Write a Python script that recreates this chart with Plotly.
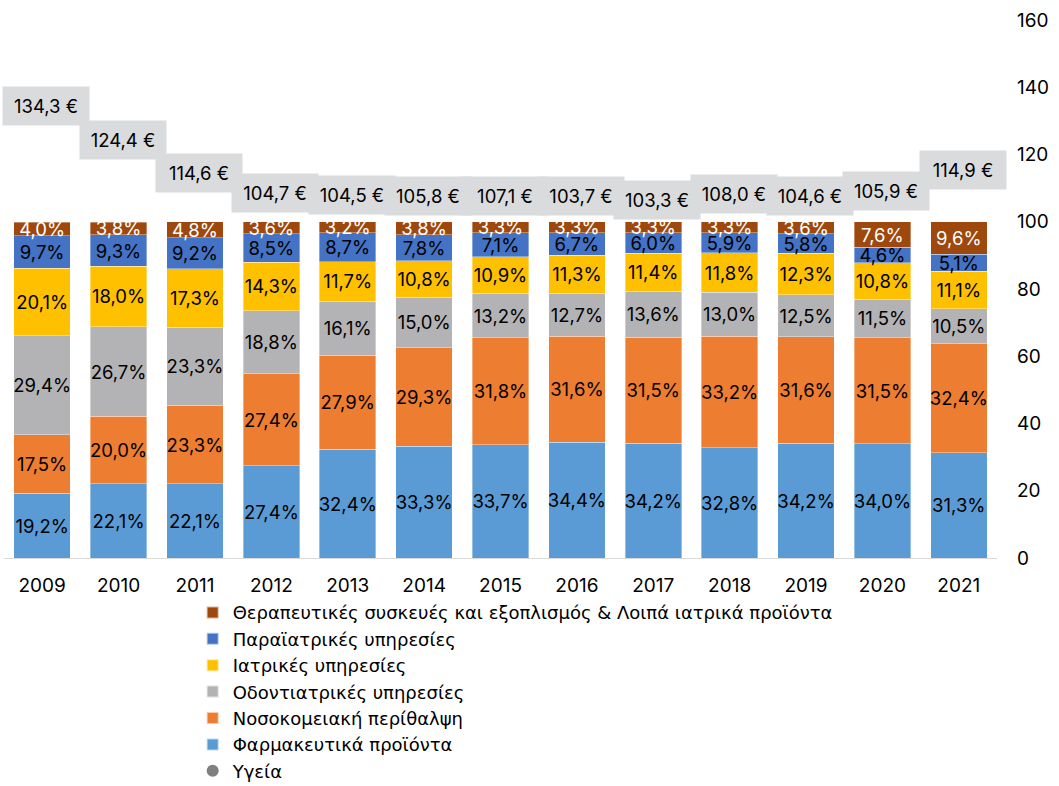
import plotly.graph_objects as go

# Years on the x axis
years = ['2009', '2010', '2011', '2012', '2013', '2014', '2015',
         '2016', '2017', '2018', '2019', '2020', '2021']

# Shares (%) per category, bottom to top of each bar
pharma = [19.2, 22.1, 22.1, 27.4, 32.4, 33.3, 33.7, 34.4, 34.2, 32.8, 34.2, 34.0, 31.3]
hospital = [17.5, 20.0, 23.3, 27.4, 27.9, 29.3, 31.8, 31.6, 31.5, 33.2, 31.6, 31.5, 32.4]
dental = [29.4, 26.7, 23.3, 18.8, 16.1, 15.0, 13.2, 12.7, 13.6, 13.0, 12.5, 11.5, 10.5]
medical = [20.1, 18.0, 17.3, 14.3, 11.7, 10.8, 10.9, 11.3, 11.4, 11.8, 12.3, 10.8, 11.1]
paramedical = [9.7, 9.3, 9.2, 8.5, 8.7, 7.8, 7.1, 6.7, 6.0, 5.9, 5.8, 4.6, 5.1]
therapeutic = [4.0, 3.8, 4.8, 3.6, 3.2, 3.8, 3.3, 3.3, 3.3, 3.3, 3.6, 7.6, 9.6]

# Total health spending (€)
health = [134.3, 124.4, 114.6, 104.7, 104.5, 105.8, 107.1, 103.7, 103.3, 108.0, 104.6, 105.9, 114.9]

# label nudges (px) for the health value boxes, as in the original
label_shift = [0, 0, 0, 13, 12, 6, 2, 13, 11, 1, 10, 11, 2]

FONT = 'Inter, Liberation Sans, Arial, sans-serif'
LEG_FONT = 'DejaVu Sans, Inter, sans-serif'
FS = 18.5

series = [
    ('Φαρμακευτικά προϊόντα', pharma, '#5b9bd5', 'black', 6),
    ('Νοσοκομειακή περίθαλψη', hospital, '#ed7d31', 'black', 5),
    ('Οδοντιατρικές υπηρεσίες', dental, '#b3b3b5', 'black', 4),
    ('Ιατρικές υπηρεσίες', medical, '#ffc000', 'black', 3),
    ('Παραϊατρικές υπηρεσίες', paramedical, '#4472c4', 'black', 2),
    ('Θεραπευτικές συσκευές και εξοπλισμός & Λοιπά ιατρικά προϊόντα', therapeutic, '#9e480e', 'white', 1),
]

fig = go.Figure()

for name, vals, color, tcolor, rank in series:
    fig.add_trace(go.Bar(
        x=years, y=vals, name=name,
        marker=dict(color=color, line=dict(color='rgba(255,255,255,0.6)', width=0.6)),
        texttemplate='%{y:.1f}%', textposition='inside', insidetextanchor='middle',
        textangle=0, textfont=dict(color=tcolor, size=FS, family=FONT),
        legendrank=rank,
    ))

fig.add_trace(go.Scatter(
    x=years, y=health, name='Υγεία', mode='markers',
    marker=dict(color='#7f7f7f', size=10), legendrank=7,
))

# grey boxed labels for the health totals (x given as category index)
for i, (v, s) in enumerate(zip(health, label_shift)):
    fig.add_annotation(
        x=i, y=v, text=f'{v:.1f} €'.replace('.', ','), showarrow=False,
        bgcolor='#dadbdd', width=84, height=36, xshift=4, yshift=s,
        font=dict(size=FS, color='black', family=FONT),
    )

fig.update_layout(
    width=1059, height=786,
    barmode='stack', bargap=0.26,
    separators=',.',
    plot_bgcolor='white', paper_bgcolor='white',
    margin=dict(l=4, r=62, t=20, b=228),
    font=dict(family=FONT, size=FS, color='black'),
    uniformtext=dict(minsize=FS, mode='show'),
    legend=dict(
        orientation='v', x=0.19, xanchor='left',
        yref='container', y=0.244, yanchor='top',
        font=dict(size=18, family=LEG_FONT), traceorder='normal',
        itemsizing='constant', tracegroupgap=0,
    ),
)

fig.update_xaxes(
    type='category', range=[-0.5, len(years) - 0.5], automargin=False,
    showline=True, linecolor='#d9d9d9', linewidth=1,
    showgrid=False, ticks='', ticklabelstandoff=10,
    tickfont=dict(size=19),
)
fig.update_yaxes(
    side='right', range=[0, 160], dtick=20, showgrid=False, zeroline=False,
    automargin=False, showline=False, ticks='', ticklabelstandoff=19,
    tickfont=dict(size=19),
)

# drop the browser's default page margin so the figure sits at the top-left corner
fig.write_html('out.html', config={'displayModeBar': False},
               post_script="document.body.style.margin='0';")
